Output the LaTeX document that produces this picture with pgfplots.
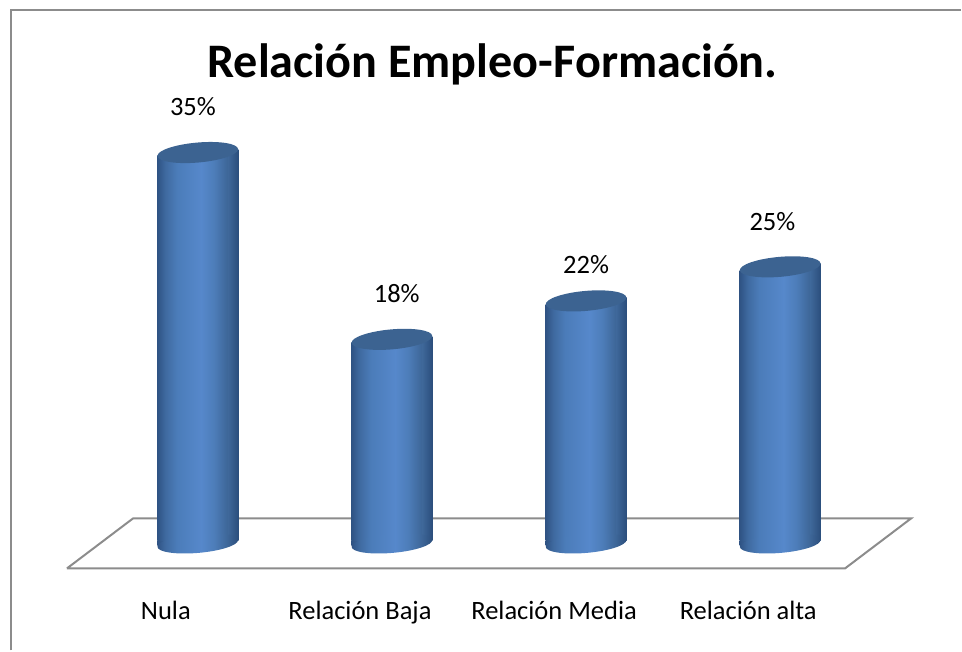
\documentclass[border=0pt]{standalone}
\usepackage{fontspec}
\setmainfont{Carlito}
\usepackage{pgfplots}
\pgfplotsset{compat=1.18}
\definecolor{cFrame}{HTML}{8C8C8C}
\definecolor{cTop}{HTML}{3C6391}
\definecolor{cA}{HTML}{2F5384}
\definecolor{cB}{HTML}{3F6AA0}
\definecolor{cC}{HTML}{4B7CB9}
\definecolor{cD}{HTML}{5688CB}
\definecolor{cE}{HTML}{4D7DB9}
\definecolor{cF}{HTML}{3E6799}
\definecolor{cG}{HTML}{2B4E7C}
\pgfdeclarehorizontalshading{cyl}{100bp}{
  color(0bp)=(cA); color(25bp)=(cA); color(30bp)=(cB);
  color(37bp)=(cC); color(52bp)=(cD); color(60bp)=(cE);
  color(68bp)=(cF); color(75bp)=(cG); color(100bp)=(cG)}
\pgfdeclarehorizontalshading{cylr}{100bp}{
  color(0bp)=(cF); color(25bp)=(cF);
  color(75bp)=(cG); color(100bp)=(cG)}
\pgfdeclarehorizontalshading{cyll}{100bp}{
  color(0bp)=(cA); color(25bp)=(cA);
  color(75bp)=(cB); color(100bp)=(cB)}
% cylinder caps, tilted like the 3D bars
\pgfdeclareplotmark{captop}{%
  \pgfpathellipse{\pgfpointorigin}{\pgfqpoint{40.35pt}{3.53pt}}{\pgfqpoint{-0.87pt}{9.96pt}}%
  \pgfsetfillcolor{cTop}\pgfusepathqfill}
\pgfdeclareplotmark{capbottom}{%
  \pgfpathellipse{\pgfpointorigin}{\pgfqpoint{40.35pt}{3.53pt}}{\pgfqpoint{-0.83pt}{9.46pt}}%
  \pgfshadepath{cyl}{0}\pgfusepath{discard}}
\newcommand{\lblfont}{\fontsize{26.5}{30}\selectfont}
\begin{document}
\begin{tikzpicture}
\begin{axis}[
  at={(0,0)}, anchor=south west,
  width=962pt, height=651pt, scale only axis,
  xmin=-1.01889, xmax=3.93145, ymin=-10, ymax=49.1818,
  axis line style={draw=none}, tick style={draw=none},
  ytick=\empty,
  xtick={0,1,2,3},
  xticklabels={Nula, Relación Baja, Relación Media, Relación alta},
  xticklabel style={font=\lblfont, anchor=base, xshift=-32pt, yshift=31pt},
  clip=false,
  bar width=81pt,
]
% frame
\addplot[cFrame, line width=2pt, mark=none] coordinates {(-0.9624,-10) (-0.9624,48.27) (3.9314,48.27)};
% floor
\addplot[cFrame, line width=2pt, mark=none] coordinates {(-0.674,-2.545) (-0.334,2) (3.674,2) (3.334,-2.545) (-0.674,-2.545)};
% bases
\addplot[only marks, mark=capbottom] coordinates {(0,-0.27) (1,-0.27) (2,-0.27) (3,-0.27)};
% left edge of the bases, they hang lower there
\addplot[ybar, bar shift=-35.5pt, bar width=10pt, draw=none, shading=cyll] coordinates {(0,-0.45)};
\addplot[ybar, bar shift=-35.5pt, bar width=10pt, draw=none, shading=cyll] coordinates {(1,-0.45)};
\addplot[ybar, bar shift=-35.5pt, bar width=10pt, draw=none, shading=cyll] coordinates {(2,-0.45)};
\addplot[ybar, bar shift=-35.5pt, bar width=10pt, draw=none, shading=cyll] coordinates {(3,-0.45)};
% bodies, one plot each so that each gets its own shading
\addplot[ybar, bar shift=0pt, draw=none, shading=cyl] coordinates {(0,35)};
\addplot[ybar, bar shift=0pt, draw=none, shading=cyl] coordinates {(1,18)};
\addplot[ybar, bar shift=0pt, draw=none, shading=cyl] coordinates {(2,21.5)};
\addplot[ybar, bar shift=0pt, draw=none, shading=cyl] coordinates {(3,24.6)};
% right edge, the tilted top sits higher there
\addplot[ybar, bar shift=35.5pt, bar width=10pt, draw=none, shading=cylr] coordinates {(0,35.6)};
\addplot[ybar, bar shift=35.5pt, bar width=10pt, draw=none, shading=cylr] coordinates {(1,18.6)};
\addplot[ybar, bar shift=35.5pt, bar width=10pt, draw=none, shading=cylr] coordinates {(2,22.1)};
\addplot[ybar, bar shift=35.5pt, bar width=10pt, draw=none, shading=cylr] coordinates {(3,25.2)};
% tops
\addplot[only marks, mark=captop] coordinates {(0,35.3) (1,18.3) (2,21.8) (3,24.9)};
\node[font=\lblfont] at (axis cs:-0.025,39.5) {35\%};
\node[font=\lblfont] at (axis cs:1.025,22.5) {18\%};
\node[font=\lblfont] at (axis cs:2,25.1) {22\%};
\node[font=\lblfont] at (axis cs:2.96,29) {25\%};
\node[font=\fontsize{48.2}{54}\selectfont\bfseries] at (axis cs:1.518,43.35) {Relación Empleo-Formación.};
\end{axis}
\end{tikzpicture}
\end{document}
